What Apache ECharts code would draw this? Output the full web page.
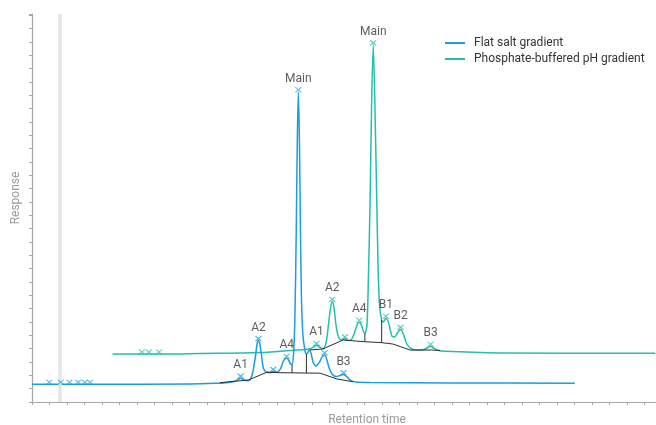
<!DOCTYPE html>
<html>
<head>
<meta charset="utf-8">
<title>Chromatogram overlay</title>
<script src="https://cdn.jsdelivr.net/npm/echarts@6/dist/echarts.min.js"></script>
<style>
  html, body { margin: 0; padding: 0; background: #ffffff; }
  #chart { width: 656px; height: 425px; }
</style>
</head>
<body>
<div id="chart"></div>
<script>
// Retention time (min) vs detector response (mAU)

// Run 1: flat salt gradient
const flatSaltTrace = [
  [0, 13.3], [0.49, 13.3], [0.82, 13.3], [1.07, 13.3], [1.32, 13.3], [1.51, 13.3], [1.66, 13.3],
  [1.94, 13.3], [4.51, 13.5], [5.23, 14.0], [5.54, 14.5], [5.77, 15.4], [5.89, 16.9], [5.96, 17.9],
  [6.04, 16.9], [6.14, 15.9], [6.23, 16.5], [6.31, 22.5], [6.39, 35.3], [6.43, 43.5], [6.47, 46.1],
  [6.51, 43.5], [6.56, 34.5], [6.61, 25.5], [6.69, 22.5], [6.80, 22.1], [6.89, 22.9], [7.00, 22.5],
  [7.10, 24.8], [7.17, 30.0], [7.23, 32.4], [7.28, 32.8], [7.33, 31.5], [7.39, 28.5], [7.43, 28.1],
  [7.47, 35.3], [7.51, 61.5], [7.55, 129], [7.58, 196.5], [7.61, 232.7], [7.64, 196.5], [7.67, 129],
  [7.70, 76.5], [7.74, 50.3], [7.80, 38.5], [7.84, 36.0], [7.89, 37.5], [7.92, 39.0], [7.97, 37.0],
  [8.03, 30.0], [8.11, 27.0], [8.20, 29.3], [8.29, 33.8], [8.36, 35.3], [8.41, 33.0], [8.49, 25.5],
  [8.57, 21.0], [8.69, 19.1], [8.80, 19.9], [8.90, 20.6], [9.00, 18.8], [9.11, 16.1], [9.26, 15.0],
  [9.66, 14.6], [11.94, 14.3], [15.51, 14.0]
];

// Run 2: phosphate-buffered pH gradient, as recorded
const phGradientTrace = [
  [0, 13.5], [0.84, 13.5], [1.04, 13.5], [1.33, 13.5], [2.50, 13.9], [4.21, 14.6], [5.07, 16.1],
  [5.50, 16.9], [5.67, 17.6], [5.76, 19.1], [5.83, 20.0], [5.91, 18.8], [6.01, 17.3], [6.10, 21.8],
  [6.17, 35.3], [6.23, 48.0], [6.28, 52.9], [6.33, 48.0], [6.39, 34.5], [6.46, 26.3], [6.55, 24.0],
  [6.64, 24.9], [6.74, 23.6], [6.84, 24.8], [6.93, 30.8], [7.00, 36.0], [7.05, 37.3], [7.11, 35.3],
  [7.17, 30.4], [7.21, 28.9], [7.27, 35.3], [7.31, 69.0], [7.36, 129], [7.40, 196.5], [7.45, 245.3],
  [7.50, 196.5], [7.55, 129], [7.59, 76.5], [7.63, 50.3], [7.69, 39.0], [7.74, 37.5], [7.81, 40.3],
  [7.89, 36.8], [7.98, 27.0], [8.06, 26.3], [8.14, 29.3], [8.23, 31.9], [8.31, 28.5], [8.41, 21.0],
  [8.53, 17.6], [8.70, 16.5], [8.90, 16.9], [9.01, 18.4], [9.09, 19.3], [9.17, 18.0], [9.27, 16.5],
  [9.50, 15.5], [11.07, 14.3], [15.51, 14.0]
];

// Overlay offset applied to run 2 (min, mAU)
const overlayShift = [2.3, 22.5];

// Detected peaks: [retention time, name]
const flatSaltPeaks = [
  [0.49, ''], [0.82, ''], [1.07, ''], [1.32, ''], [1.51, ''], [1.66, ''],
  [5.96, 'A1'], [6.47, 'A2'], [6.89, ''], [7.28, 'A4'], [7.61, 'Main'], [8.36, ''], [8.90, 'B3']
];
const phGradientPeaks = [
  [0.84, ''], [1.04, ''], [1.33, ''],
  [5.83, 'A1'], [6.28, 'A2'], [6.64, ''], [7.05, 'A4'], [7.45, 'Main'], [7.81, 'B1'], [8.23, 'B2'], [9.09, 'B3']
];

// Integration baselines and peak drop lines: [time, baseline response]
const flatSaltBaseline = [[5.37, 14.5], [6.18, 16.5], [6.71, 22.3], [7.03, 22.0], [8.23, 21.6], [8.71, 17.3], [9.17, 15.2]];
const phGradientBaseline = [[5.64, 16.5], [6.01, 17.3], [6.59, 24.0], [7.21, 22.7], [7.69, 22.0], [8.01, 21.0], [8.50, 16.5], [9.12, 16.5], [9.36, 16.1]];
const flatSaltDrops = [[7.43, 21.9], [7.84, 21.7]];
const phGradientDrops = [[7.21, 22.7], [7.69, 22.0]];

// Injection marker
const injectionTime = 0.78;

const BLUE = '#1a9de2';
const TEAL = '#24bdb0';
const INK = '#2e2e2e';
const FONT = 'Roboto, "Noto Sans", sans-serif';

const shift = p => [p[0] + overlayShift[0], p[1] + overlayShift[1]];

function responseAt(trace, t) {
  let best = trace[0];
  for (const p of trace) {
    if (Math.abs(p[0] - t) < Math.abs(best[0] - t)) best = p;
  }
  return best[1];
}

function peakMarks(trace, peaks, shifted) {
  return peaks.map(([t, name]) => {
    const p = [t, responseAt(trace, t)];
    return { name: name, value: shifted ? shift(p) : p };
  });
}

function dropSeries(trace, drops, shifted) {
  return drops.map(([t, base]) => {
    let pts = [[t, base], [t, responseAt(trace, t)]];
    if (shifted) pts = pts.map(shift);
    return {
      type: 'line', data: pts, symbol: 'none', silent: true, z: 4,
      lineStyle: { color: INK, width: 1 }
    };
  });
}

const xMark = 'path://M0,0L8,7M8,0L0,7';

function markerSeries(data, color) {
  return {
    type: 'scatter', data: data, symbol: xMark, symbolSize: [6, 5], symbolOffset: [0, -2],
    silent: true, z: 5,
    itemStyle: { color: 'rgba(0,0,0,0)', borderColor: color, borderWidth: 1.1 },
    label: {
      show: true, position: 'top', distance: 2, formatter: '{b}',
      color: '#333333', fontSize: 12, fontFamily: FONT
    }
  };
}

const chart = echarts.init(document.getElementById('chart'), null, { renderer: 'canvas' });

chart.setOption({
  animation: false,
  backgroundColor: '#ffffff',
  grid: { left: 32, top: 14, width: 630, height: 388, containLabel: false, outerBoundsMode: 'none' },
  legend: {
    data: [
      { name: 'Flat salt gradient', icon: 'rect' },
      { name: 'Phosphate-buffered pH gradient', icon: 'rect' }
    ],
    orient: 'vertical', left: 440, top: 32,
    itemWidth: 20, itemHeight: 2, itemGap: 4,
    textStyle: { color: '#333333', fontSize: 12, fontFamily: FONT, padding: [0, 0, 0, 4] }
  },
  xAxis: {
    type: 'value', min: 0, max: 18, interval: 0.5,
    name: 'Retention time', nameLocation: 'middle', nameGap: 12,
    nameTextStyle: { color: '#9a9a9a', fontSize: 12, fontFamily: FONT, padding: [0, 0, 0, 40] },
    axisLine: { show: true, lineStyle: { color: '#a6a6a6', width: 1.2 } },
    axisTick: { show: true, length: 3, lineStyle: { color: '#a6a6a6' } },
    axisLabel: { show: false },
    splitLine: { show: false }
  },
  yAxis: {
    type: 'value', min: 0, max: 291, interval: 10,
    name: 'Response', nameLocation: 'middle', nameGap: 10,
    nameTextStyle: { color: '#9a9a9a', fontSize: 12, fontFamily: FONT, padding: [0, 0, 0, 20] },
    axisLine: { show: true, lineStyle: { color: '#a6a6a6', width: 1.2 } },
    axisTick: { show: true, length: 3, lineStyle: { color: '#a6a6a6' } },
    axisLabel: { show: false },
    splitLine: { show: false }
  },
  series: [
    {
      name: 'Phosphate-buffered pH gradient', type: 'line',
      data: phGradientTrace.map(shift),
      symbol: 'none', smooth: 0.3, z: 2,
      lineStyle: { color: TEAL, width: 1.5 }, itemStyle: { color: TEAL },
      markLine: {
        silent: true, symbol: ['none', 'none'], label: { show: false },
        lineStyle: { color: '#e6e6e6', width: 3.5, type: 'solid' },
        data: [{ xAxis: injectionTime }]
      }
    },
    {
      name: 'Flat salt gradient', type: 'line',
      data: flatSaltTrace,
      symbol: 'none', smooth: 0.3, z: 3,
      lineStyle: { color: BLUE, width: 1.5 }, itemStyle: { color: BLUE }
    },
    {
      type: 'line', data: flatSaltBaseline, symbol: 'none', silent: true, z: 4,
      lineStyle: { color: INK, width: 1 }
    },
    {
      type: 'line', data: phGradientBaseline.map(shift), symbol: 'none', silent: true, z: 4,
      lineStyle: { color: INK, width: 1 }
    },
    ...dropSeries(flatSaltTrace, flatSaltDrops, false),
    ...dropSeries(phGradientTrace, phGradientDrops, true),
    markerSeries(peakMarks(flatSaltTrace, flatSaltPeaks, false), BLUE),
    markerSeries(peakMarks(phGradientTrace, phGradientPeaks, true), TEAL)
  ]
});
</script>
</body>
</html>
